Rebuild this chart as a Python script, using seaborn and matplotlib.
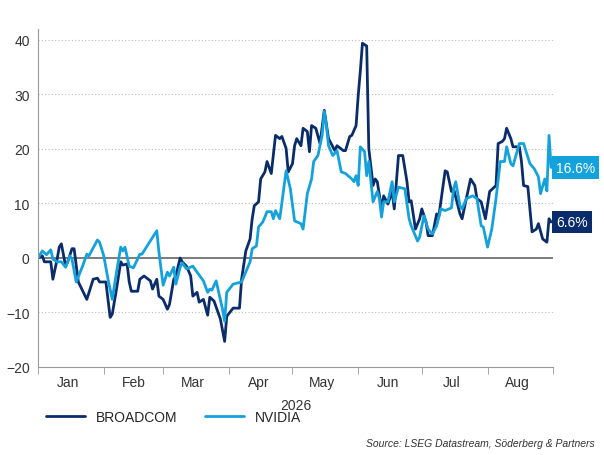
import matplotlib
matplotlib.use("Agg")
import matplotlib.pyplot as plt
import matplotlib.dates as mdates
import seaborn as sns
import pandas as pd
import numpy as np

avgo_days = [0,2,3,6,7,9,10,11,13,14,16,17,19,23,26,28,29,32,34,35,37,39,40,42,43,44,47,48,50,53,54,56,57,59,61,62,64,65,67,68,70,72,73,75,76,78,80,81,83,86,88,89,92,95,96,98,100,101,102,104,105,107,108,110,112,114,115,117,118,120,121,122,124,125,127,128,129,131,133,135,137,140,141,144,145,147,148,150,151,152,153,155,156,158,159,160,162,163,165,167,168,170,172,174,175,176,178,180,181,183,184,186,188,189,192,193,195,196,199,200,202,204,206,207,209,211,213,216,217,219,220,221,223,224,227,228,229,231,233,235,236,238,240,241,242]
avgo_vals = [0,0.4,-0.7,-0.7,-3.9,-0.2,2.0,2.6,-1.5,-0.7,1.7,1.7,-4.4,-7.6,-3.9,-3.7,-4.4,-4.4,-10.9,-10.3,-5.7,-0.7,-1.3,-1.1,-4.4,-6.1,-6.1,-3.9,-3.3,-4.2,-5.7,-3.9,-7.0,-7.6,-9.4,-8.5,-3.9,-3.3,0,-0.7,-1.5,-3.3,-7.0,-6.3,-8.1,-7.6,-10.5,-7.2,-7.9,-11.2,-15.3,-10.7,-9.2,-9.2,-3.9,1.3,3.5,7.2,9.6,10.3,14.5,15.8,17.7,15.5,22.5,21.9,22.3,20.1,15.8,17.3,20.6,21.9,20.6,23.8,23.2,19.5,24.3,23.8,21.0,27.1,21.9,19.7,20.6,19.7,19.7,22.3,22.5,24.3,29.8,34.3,39.4,38.9,20.1,13.3,14.5,14.0,9.0,11.4,9.9,12.2,9.0,18.8,18.8,14.0,10.3,10.5,5.3,7.2,9.0,6.6,4.1,4.1,8.1,7.6,16.0,15.8,12.2,12.7,8.1,7.2,10.9,14.5,13.3,10.9,10.3,7.2,12.2,13.3,21.0,21.4,21.9,23.8,21.9,20.4,20.4,17.7,13.3,13.1,4.8,5.3,6.3,3.5,2.9,7.2,6.6]

nvda_days = [0,2,4,6,7,9,11,13,15,16,18,21,23,24,28,29,31,33,35,37,39,40,41,43,45,48,49,56,57,59,61,62,64,65,67,68,70,73,75,78,80,81,82,84,87,88,89,92,96,100,101,103,104,106,108,110,111,112,114,117,119,121,124,125,127,129,130,132,134,135,136,137,139,141,143,145,148,149,150,151,152,154,155,156,158,160,161,162,163,165,167,168,170,173,175,176,179,180,182,184,186,188,190,192,195,196,197,199,200,202,205,207,209,210,212,214,216,218,220,221,223,224,227,229,232,234,236,237,239,240,241,242]
nvda_vals = [0,1.3,0.6,1.5,-0.2,-0.7,-0.7,-1.7,0.4,-0.2,-4.4,-1.5,0.7,0.4,3.3,2.9,0.4,-3.9,-7.6,-2.6,2.0,1.3,2.0,-1.5,-1.8,0.7,0.7,5.0,1.1,-5.0,-2.6,-3.3,-1.7,-4.8,-1.7,-0.9,-2.0,-1.5,-2.6,-4.2,-6.3,-5.7,-5.9,-4.2,-9.4,-11.6,-6.3,-4.8,-4.4,-0.7,1.7,2.2,5.7,6.6,8.5,8.5,7.2,8.7,7.2,16.0,12.7,6.8,6.3,5.3,11.8,14.5,17.7,18.8,22.5,26.9,24.3,20.6,18.8,19.7,15.8,15.5,14.5,14.0,15.1,13.3,20.4,19.5,15.1,17.7,10.3,12.2,10.9,7.5,10.3,10.3,14.0,10.3,13.0,12.7,7.2,5.9,3.1,3.9,7.7,5.3,4.4,5.9,9.0,8.7,9.2,12.7,14.0,9.6,9.0,10.9,11.4,10.9,5.9,5.7,2.0,5.3,10.9,17.7,17.7,20.4,17.3,16.9,21.0,21.0,17.3,16.4,14.9,11.8,14.5,12.3,22.5,16.6]

months = ["Jan","Feb","Mar","Apr","May","Jun","Jul","Aug"]
yticks = [-20,-10,0,10,20,30,40]
start = pd.Timestamp("2026-01-01")
df = pd.concat([
    pd.DataFrame({"date": start + pd.to_timedelta(avgo_days, unit="D"), "val": avgo_vals, "name": "BROADCOM"}),
    pd.DataFrame({"date": start + pd.to_timedelta(nvda_days, unit="D"), "val": nvda_vals, "name": "NVIDIA"}),
])
c_avgo = "#0b2c6b"
c_nvda = "#14a2dc"

sns.set_style("white")
plt.rcParams['font.family'] = ['Liberation Sans', 'DejaVu Sans']
fig = plt.figure(figsize=(6.04, 4.56), dpi=100)
ax = fig.add_axes([0.063, 0.193, 0.853, 0.741])
sns.lineplot(data=df, x="date", y="val", hue="name", palette={"BROADCOM": c_avgo, "NVIDIA": c_nvda},
             linewidth=2, ax=ax, legend=False)
ax.set_xlim(start, start + pd.Timedelta(days=243))
ax.set_ylim(-20, 42)
ax.set_yticks(yticks)
ax.tick_params(axis="y", labelsize=10, colors="#333333", length=0, pad=6)
for v in yticks:
    if v not in (0, -20):
        ax.axhline(v, color="#bbbbbb", lw=0.8, ls=(0, (1, 2)), zorder=0)
ax.axhline(0, color="#666666", lw=1.2, zorder=1)
ax.xaxis.set_minor_locator(mdates.MonthLocator())
ax.xaxis.set_major_locator(mdates.MonthLocator(bymonthday=15))
ax.set_xticks([start + pd.Timedelta(days=d) for d in [14,45,73,104,134,165,195,226]])
ax.set_xticklabels(months)
ax.tick_params(axis="x", which="major", length=0, labelsize=10, colors="#333333", pad=6)
ax.tick_params(axis="x", which="minor", length=5, color="#999999", bottom=True)
ax.set_xlabel("2026", fontsize=10, color="#333333", labelpad=6)
ax.set_ylabel("")
for s in ["top", "right"]:
    ax.spines[s].set_visible(False)
for s in ["left", "bottom"]:
    ax.spines[s].set_color("#999999")

for val, col in [(avgo_vals[-1], c_avgo), (nvda_vals[-1], c_nvda)]:
    ax.annotate(f"{val}%", xy=(1.005, val), xycoords=("axes fraction", "data"),
                ha="left", va="center", fontsize=10, color="white",
                bbox=dict(boxstyle="square,pad=0.3", fc=col, ec="none"), annotation_clip=False)
    # widen box look
from matplotlib.lines import Line2D
h = [Line2D([], [], color=c_avgo, lw=2), Line2D([], [], color=c_nvda, lw=2)]
fig.legend(h, ["BROADCOM", "NVIDIA"], loc="lower left", bbox_to_anchor=(0.055, 0.04), ncol=2,
           frameon=False, fontsize=10, handlelength=2.8, columnspacing=2)
fig.text(0.985, 0.015, "Source: LSEG Datastream, Söderberg & Partners", ha="right", va="bottom",
         fontsize=7.5, style="italic", color="#333333")
fig.savefig("out.png", dpi=100)
